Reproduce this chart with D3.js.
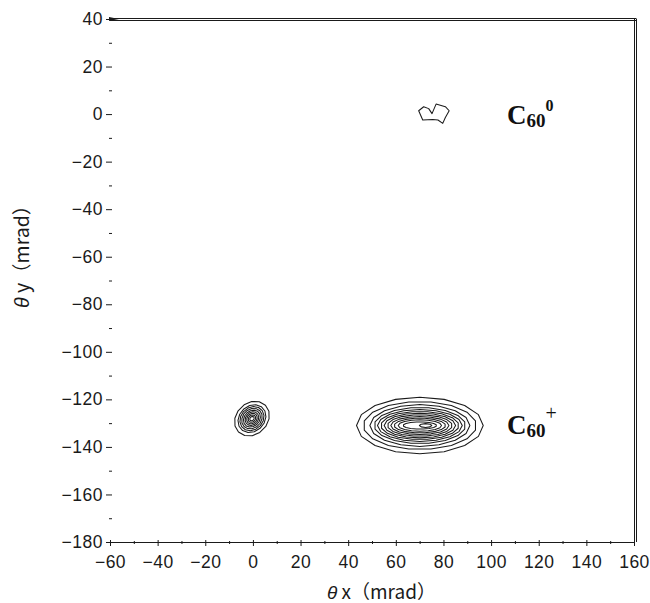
<!DOCTYPE html>
<html>
<head>
<meta charset="utf-8">
<script src="https://cdn.jsdelivr.net/npm/d3@7"></script>
<style>
  html, body { margin: 0; padding: 0; background: #fff; }
  svg { display: block; }
</style>
</head>
<body>
<svg id="chart" width="650" height="603"></svg>
<script>
// Axis ticks (mrad)
const xMajorTicks = [-60, -40, -20, 0, 20, 40, 60, 80, 100, 120, 140, 160];
const xMinorTicks = [-50, -30, -10, 10, 30, 50, 70, 90, 110, 130, 150];
const yMajorTicks = [40, 20, 0, -20, -40, -60, -80, -100, -120, -140, -160, -180];
const yMinorTicks = [30, 10, -10, -30, -50, -70, -90, -110, -130, -150, -170];

// Scattered C60+ peak near the beam axis: centre and ring semi-axes (major, minor), tilt in degrees
const beamPeakCenter = [-0.4, -128.1];
const beamPeakTilt = 45;
const beamRingsMajor = [8.0, 6.4, 5.5, 4.7, 3.9, 3.1, 2.4, 1.7, 1.0];
const beamRingsMinor = [6.6, 5.3, 4.6, 3.9, 3.2, 2.6, 2.0, 1.4, 0.8];

// Deflected C60+ peak: centre and ring semi-axes along x and y
const ionPeakCenter = [70.1, -131.0];
const ionRingsRx = [26.6, 23.8, 21.0, 19.2, 17.8, 16.4, 15.0, 13.6, 12.2, 10.8, 9.1, 7.0];
const ionRingsRy = [11.9, 10.1, 8.8, 7.6, 6.7, 5.9, 5.2, 4.5, 3.8, 3.1, 2.4, 1.5];
const ionCoreCenter = [72.5, -131.0];
const ionCoreRx = [2.6];
const ionCoreRy = [0.8];

// Neutral C60 contour (single level)
const neutralOutline = [
  [69.6, 1.4], [71.7, 3.1], [73.8, 2.3], [75.2, 0.2], [76.9, 4.2], [80.8, 3.1],
  [82.4, 1.4], [80.8, -1.4], [79.7, -3.9], [77.7, -2.5], [75.5, -2.3], [71.3, -2.5]
];

// Species labels: anchor (data coords) and charge superscript
const speciesLabels = [
  { x: 106.7, y: -4.0, charge: "0" },
  { x: 106.7, y: -134.4, charge: "+" }
];

const svg = d3.select("#chart");
const ink = "#1a1a1a";
const tickFont = "'Liberation Sans', Arial, sans-serif";

const x = d3.scaleLinear().domain([-60, 160]).range([110, 634]);
const y = d3.scaleLinear().domain([-180, 40]).range([542, 19]);

// Frame: double rule along the top and right edges
const yTop = y(40), xRight = x(160), xLeft = x(-60), yBottom = y(-180);
const frame = svg.append("g").attr("stroke", ink).attr("fill", "none").attr("stroke-width", 1);
frame.append("line").attr("x1", xLeft).attr("x2", xRight + 2).attr("y1", yTop - 0.5).attr("y2", yTop - 0.5);
frame.append("line").attr("x1", xLeft).attr("x2", xRight + 2).attr("y1", yTop + 1.5).attr("y2", yTop + 1.5);
frame.append("line").attr("x1", xRight + 0.5).attr("x2", xRight + 0.5).attr("y1", yTop).attr("y2", yBottom);
frame.append("line").attr("x1", xRight + 2.5).attr("x2", xRight + 2.5).attr("y1", yTop - 0.5).attr("y2", yBottom);
svg.append("path")
  .attr("d", `M${xLeft - 1},${yTop - 2}L${xLeft + 9},${yTop}L${xLeft - 1},${yTop + 2}Z`)
  .attr("fill", ink);

// Bottom axis
const xAxisG = svg.append("g").attr("transform", `translate(0,${yBottom})`);
xAxisG.call(d3.axisBottom(x).tickValues(xMajorTicks).tickSize(4).tickSizeOuter(0));
xAxisG.select(".domain").attr("stroke", ink).attr("d", `M${xLeft},0.5H${xRight + 1}`);
xAxisG.selectAll(".tick line").attr("stroke", ink).attr("y1", -2);
xAxisG.selectAll(".tick text")
  .attr("y", 26).attr("dy", null)
  .attr("fill", "#1a1a1a")
  .style("font-family", tickFont)
  .style("font-size", "17.5px")
  .style("letter-spacing", "0.5px");
const xMinorG = svg.append("g").attr("transform", `translate(0,${yBottom})`);
xMinorG.call(d3.axisBottom(x).tickValues(xMinorTicks).tickSize(2).tickSizeOuter(0).tickFormat(""));
xMinorG.select(".domain").remove();
xMinorG.selectAll(".tick line").attr("stroke", ink).attr("y1", -1);

// Left axis (ticks and labels only)
const yAxisG = svg.append("g").attr("transform", `translate(${xLeft + 2},0)`);
yAxisG.call(d3.axisLeft(y).tickValues(yMajorTicks).tickSize(6).tickPadding(3));
yAxisG.select(".domain").remove();
yAxisG.selectAll(".tick line").attr("stroke", ink);
yAxisG.selectAll(".tick text")
  .attr("fill", "#1a1a1a")
  .style("font-family", tickFont)
  .style("font-size", "17.5px")
  .style("letter-spacing", "0.5px");
const yMinorG = svg.append("g").attr("transform", `translate(${xLeft + 2},0)`);
yMinorG.call(d3.axisLeft(y).tickValues(yMinorTicks).tickSize(3).tickFormat(""));
yMinorG.select(".domain").remove();
yMinorG.selectAll(".tick line").attr("stroke", ink).attr("x2", -3).attr("x1", 0);

// Axis titles
const xTitle = svg.append("text")
  .attr("x", 327).attr("y", 599)
  .attr("fill", "#1a1a1a")
  .style("font-family", "'Noto Sans CJK JP', sans-serif")
  .style("font-size", "19px");
xTitle.append("tspan").style("font-family", tickFont).style("font-style", "italic").text("θ");
xTitle.append("tspan").text(" x（mrad）");

const yTitle = svg.append("text")
  .attr("transform", "translate(29,308) rotate(-90)")
  .attr("fill", "#1a1a1a")
  .style("font-family", "'Noto Sans CJK JP', sans-serif")
  .style("font-size", "19.5px");
yTitle.append("tspan").style("font-family", tickFont).style("font-style", "italic").text("θ");
yTitle.append("tspan").text(" y（mrad）");

// Contour rings: closed polygons through points on each ring
const ringLine = d3.line().curve(d3.curveLinearClosed);
function ringPoints(cx, cy, a, b, tiltDeg, n, phase) {
  const phi = tiltDeg * Math.PI / 180;
  return d3.range(n).map(k => {
    const t = 2 * Math.PI * (k + phase) / n;
    const dx = a * Math.cos(t), dy = b * Math.sin(t);
    return [x(cx + dx * Math.cos(phi) - dy * Math.sin(phi)),
            y(cy + dx * Math.sin(phi) + dy * Math.cos(phi))];
  });
}

const contours = svg.append("g")
  .attr("fill", "none").attr("stroke", ink).attr("stroke-width", 1.05)
  .attr("stroke-linejoin", "round");

contours.selectAll("path.beam")
  .data(beamRingsMajor.map((a, i) => [a, beamRingsMinor[i], i]))
  .join("path").attr("class", "beam")
  .attr("d", d => ringLine(ringPoints(beamPeakCenter[0], beamPeakCenter[1], d[0], d[1], beamPeakTilt, 14, (d[2] % 3) / 3)));

contours.selectAll("path.ion")
  .data(ionRingsRx.map((a, i) => [a, ionRingsRy[i], i]))
  .join("path").attr("class", "ion")
  .attr("d", d => ringLine(ringPoints(ionPeakCenter[0], ionPeakCenter[1], d[0], d[1], 0, 16, (d[2] % 2) / 2)));

contours.selectAll("path.core")
  .data(ionCoreRx.map((a, i) => [a, ionCoreRy[i]]))
  .join("path").attr("class", "core")
  .attr("d", d => ringLine(ringPoints(ionCoreCenter[0], ionCoreCenter[1], d[0], d[1], 0, 8, 0)));

contours.append("path")
  .attr("d", ringLine(neutralOutline.map(p => [x(p[0]), y(p[1])])));

// Species labels
speciesLabels.forEach(l => {
  const t = svg.append("text")
    .attr("x", x(l.x)).attr("y", y(l.y))
    .attr("fill", "#111")
    .style("font-family", "'Liberation Serif', 'Times New Roman', serif")
    .style("font-weight", "bold");
  t.append("tspan").style("font-size", "27px").text("C");
  t.append("tspan").style("font-size", "19px").attr("dy", 3.3).text("60");
  if (l.charge === "+") {
    t.append("tspan").style("font-size", "20px").style("font-weight", "normal")
      .attr("dy", -17.3).text("+");
  } else {
    t.append("tspan").style("font-size", "16px").attr("dy", -16.1).text(l.charge);
  }
});
</script>
</body>
</html>
